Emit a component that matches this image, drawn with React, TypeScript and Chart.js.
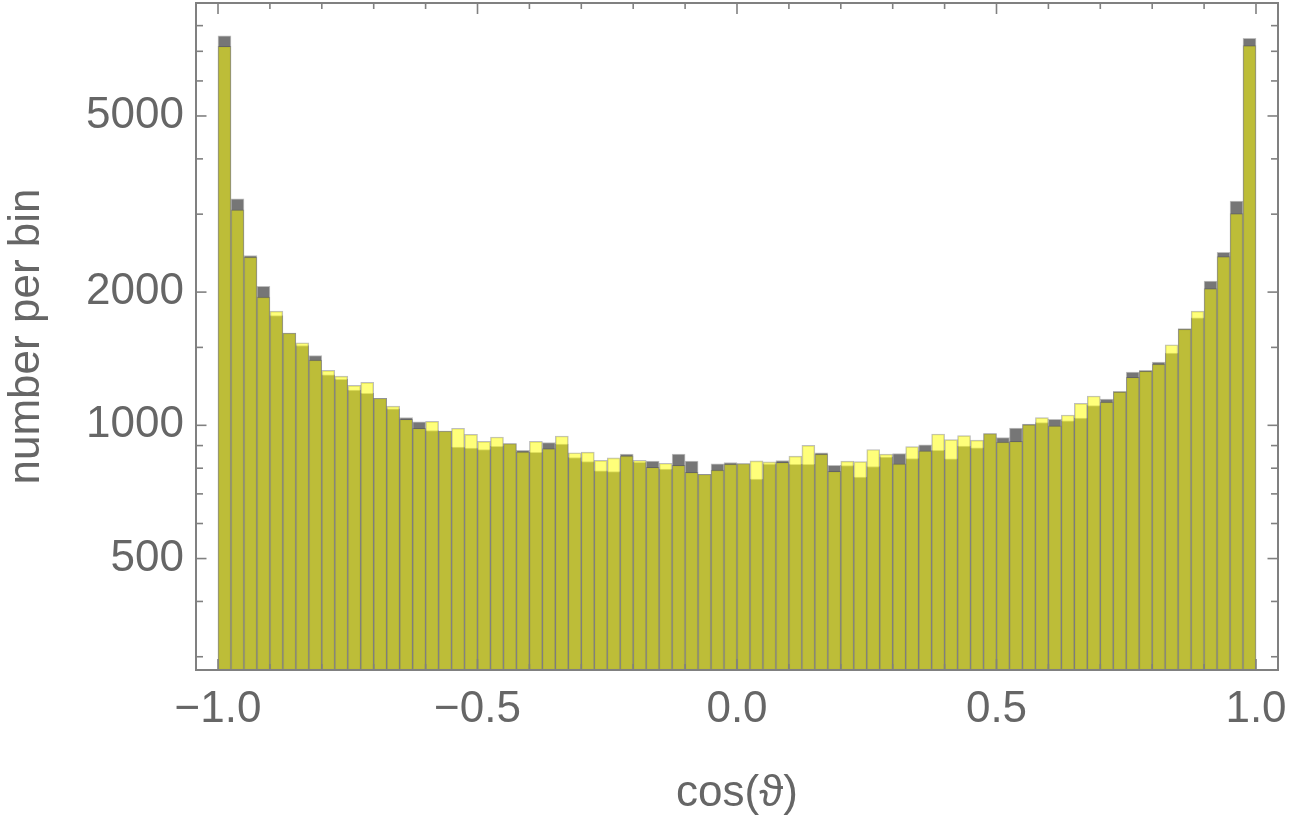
import React, { useEffect, useRef } from "react";
import { Chart, registerables } from "chart.js";

Chart.register(...registerables);

// Bin centres of the 80 histogram bins (width 0.025) on cos(theta)
const binCenters = [
  -0.9875, -0.9625, -0.9375, -0.9125, -0.8875, -0.8625, -0.8375, -0.8125, -0.7875, -0.7625,
  -0.7375, -0.7125, -0.6875, -0.6625, -0.6375, -0.6125, -0.5875, -0.5625, -0.5375, -0.5125,
  -0.4875, -0.4625, -0.4375, -0.4125, -0.3875, -0.3625, -0.3375, -0.3125, -0.2875, -0.2625,
  -0.2375, -0.2125, -0.1875, -0.1625, -0.1375, -0.1125, -0.0875, -0.0625, -0.0375, -0.0125,
  0.0125, 0.0375, 0.0625, 0.0875, 0.1125, 0.1375, 0.1625, 0.1875, 0.2125, 0.2375,
  0.2625, 0.2875, 0.3125, 0.3375, 0.3625, 0.3875, 0.4125, 0.4375, 0.4625, 0.4875,
  0.5125, 0.5375, 0.5625, 0.5875, 0.6125, 0.6375, 0.6625, 0.6875, 0.7125, 0.7375,
  0.7625, 0.7875, 0.8125, 0.8375, 0.8625, 0.8875, 0.9125, 0.9375, 0.9625, 0.9875,
];

// Gray histogram (drawn underneath)
const countsGray = [
  7590, 3250, 2420, 2060, 1770, 1615, 1515, 1437, 1300, 1270,
  1202, 1181, 1151, 1090, 1041, 1018, 973, 971, 893, 888,
  881, 896, 909, 878, 869, 914, 907, 846, 828, 789,
  786, 861, 825, 830, 796, 861, 830, 775, 818, 824,
  820, 756, 817, 832, 816, 816, 867, 812, 811, 764,
  807, 848, 863, 841, 904, 878, 840, 898, 890, 958,
  938, 986, 1007, 1014, 1032, 1023, 1039, 1108, 1147, 1193,
  1320, 1331, 1390, 1457, 1655, 1750, 2117, 2461, 3212, 7490,
];

// Yellow histogram (translucent, drawn on top)
const countsYellow = [
  7180, 3070, 2400, 1948, 1812, 1615, 1537, 1405, 1331, 1292,
  1231, 1250, 1151, 1105, 1032, 985, 1021, 971, 985, 954,
  920, 941, 909, 871, 920, 886, 946, 867, 870, 833,
  844, 853, 834, 804, 821, 812, 783, 775, 792, 817,
  820, 831, 827, 825, 852, 901, 861, 787, 830, 828,
  882, 861, 818, 895, 876, 956, 928, 948, 926, 958,
  917, 920, 1004, 1041, 998, 1055, 1121, 1165, 1129, 1191,
  1284, 1326, 1375, 1521, 1650, 1811, 2038, 2407, 3010, 7207,
];

const xMajorTicks = [-1, -0.5, 0, 0.5, 1];
const xMinorTicks = [-0.9, -0.8, -0.7, -0.6, -0.4, -0.3, -0.2, -0.1, 0.1, 0.2, 0.3, 0.4, 0.6, 0.7, 0.8, 0.9];
const yMajorTicks = [500, 1000, 2000, 5000];
const yMinorTicks = [300, 400, 600, 700, 800, 900, 1500, 3000, 4000, 6000, 7000, 8000, 9000];
const xRange = [-1.0424, 1.0424];
const yRange = [280, 9000];

const xTitle = "cos(\u03D1)";
const yTitle = "number per bin";

const TEXT_COLOR = "#666666";
const FRAME_COLOR = "#808080";
const GRAY_FILL = "#767676";
const YELLOW_FILL = "rgba(255,255,0,0.52)";
const EDGE_COLOR = "rgba(70,70,70,0.35)";
const FONT = { family: "'Liberation Sans', Arial, sans-serif", size: 44 };

const frameTicksPlugin = {
  id: "frameTicks",
  afterDatasetsDraw(chart: any) {
    const { ctx, chartArea: a, scales } = chart;
    const xs = scales.x;
    const ys = scales.y;
    ctx.save();
    ctx.strokeStyle = FRAME_COLOR;
    ctx.lineWidth = 1.6;
    const line = (x1: number, y1: number, x2: number, y2: number) => {
      ctx.beginPath();
      ctx.moveTo(x1, y1);
      ctx.lineTo(x2, y2);
      ctx.stroke();
    };
    for (const v of xMajorTicks) {
      const p = xs.getPixelForValue(v);
      line(p, a.bottom, p, a.bottom - 11);
      line(p, a.top, p, a.top + 11);
    }
    for (const v of xMinorTicks) {
      const p = xs.getPixelForValue(v);
      line(p, a.bottom, p, a.bottom - 6);
      line(p, a.top, p, a.top + 6);
    }
    for (const v of yMajorTicks) {
      const p = ys.getPixelForValue(v);
      line(a.left, p, a.left + 10.5, p);
      line(a.right, p, a.right - 10.5, p);
    }
    for (const v of yMinorTicks) {
      if (v > yRange[1] || v < yRange[0]) continue;
      const p = ys.getPixelForValue(v);
      line(a.left, p, a.left + 7, p);
      line(a.right, p, a.right - 7, p);
    }
    ctx.lineWidth = 2;
    ctx.strokeRect(a.left, a.top, a.right - a.left, a.bottom - a.top);
    ctx.restore();
  },
};

function fmtX(v: number) {
  if (v === 0) return "0.0";
  return (v < 0 ? "\u2212" : "") + Math.abs(v).toFixed(1);
}

export default function App() {
  const ref = useRef<HTMLCanvasElement | null>(null);

  useEffect(() => {
    if (!ref.current) return;
    const common = {
      borderColor: EDGE_COLOR,
      borderWidth: 1,
      borderSkipped: false,
      grouped: false,
      categoryPercentage: 1,
      barPercentage: 1,
    };
    const chart = new Chart(ref.current, {
      type: "bar",
      data: {
        datasets: [
          {
            label: "gray",
            data: binCenters.map((x, i) => ({ x, y: countsGray[i] })),
            backgroundColor: GRAY_FILL,
            order: 2,
            ...common,
          } as any,
          {
            label: "yellow",
            data: binCenters.map((x, i) => ({ x, y: countsYellow[i] })),
            backgroundColor: YELLOW_FILL,
            order: 1,
            ...common,
          } as any,
        ],
      },
      options: {
        animation: false,
        responsive: false,
        maintainAspectRatio: false,
        layout: { padding: { top: 3, right: 17, left: 0, bottom: 0 } },
        plugins: { legend: { display: false }, tooltip: { enabled: false } },
        scales: {
          x: {
            type: "linear",
            min: xRange[0],
            max: xRange[1],
            offset: false,
            grid: { display: false, drawTicks: false },
            border: { display: false },
            afterBuildTicks: (s: any) => {
              s.ticks = xMajorTicks.map((v) => ({ value: v }));
            },
            afterFit: (s: any) => {
              s.height = 161;
              s.paddingLeft = 0;
              s.paddingRight = 0;
            },
            ticks: {
              padding: 13,
              color: TEXT_COLOR,
              font: FONT,
              maxRotation: 0,
              autoSkip: false,
              callback: (v: any) => fmtX(Number(v)),
            },
            title: {
              display: true,
              text: xTitle,
              color: TEXT_COLOR,
              font: FONT,
              padding: { top: 0, bottom: 11 },
            },
          },
          y: {
            type: "logarithmic",
            min: yRange[0],
            max: yRange[1],
            grid: { display: false, drawTicks: false },
            border: { display: false },
            afterBuildTicks: (s: any) => {
              s.ticks = yMajorTicks.map((v) => ({ value: v }));
            },
            afterFit: (s: any) => {
              s.width = 196;
              s.paddingTop = 0;
              s.paddingBottom = 0;
            },
            ticks: {
              padding: 12,
              color: TEXT_COLOR,
              font: FONT,
              autoSkip: false,
              callback: (v: any) => String(v),
            },
            title: {
              display: true,
              text: yTitle,
              color: TEXT_COLOR,
              font: FONT,
              padding: { top: 0, bottom: 0 },
            },
          },
        },
      } as any,
      plugins: [frameTicksPlugin],
    });
    return () => chart.destroy();
  }, []);

  return (
    <div style={{ position: "fixed", left: 0, top: 0, width: 1295, height: 831, background: "#fff" }}>
      <canvas ref={ref} width={1295} height={831} style={{ display: "block" }} />
    </div>
  );
}
